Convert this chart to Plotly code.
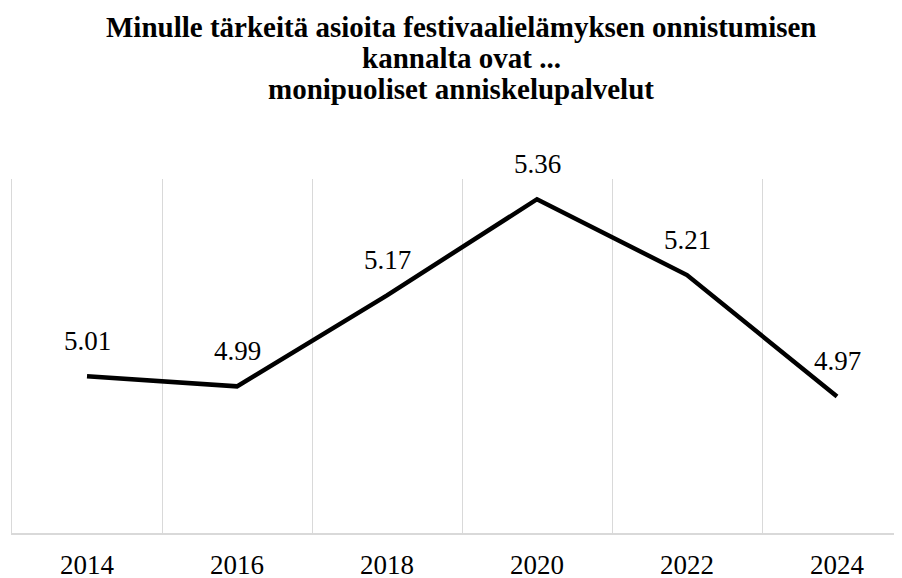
import plotly.graph_objects as go

years = ["2014", "2016", "2018", "2020", "2022", "2024"]
values = [5.01, 4.99, 5.17, 5.36, 5.21, 4.97]
labels = ["5.01", "4.99", "5.17", "5.36", "5.21", "4.97"]
title_lines = [
    "Minulle tärkeitä asioita festivaalielämyksen onnistumisen",
    "kannalta ovat ...",
    "monipuoliset anniskelupalvelut",
]

SERIF = "Liberation Serif"
GRID = "#d9d9d9"

# page body adds an 8px margin, so the figure is sized to fill the window
W, H = 894, 570
ML, MT, MB = 4, 171, 45
plot_h = H - MT - MB

fig = go.Figure()
fig.add_trace(go.Scatter(
    x=years, y=values, mode="lines",
    line=dict(color="#000000", width=4.5),
    hoverinfo="skip", showlegend=False,
))

for i, (v, t) in enumerate(zip(values, labels)):
    fig.add_annotation(x=i, y=v, xref="x", yref="y", text=t, showarrow=False,
                       yshift=35,
                       font=dict(family=SERIF, size=27, color="#000000"))

title_y_px = [19, 50, 81]
for line, ypx in zip(title_lines, title_y_px):
    fig.add_annotation(
        x=0.5045, y=(H - MB - ypx) / plot_h, xref="paper", yref="paper",
        text="<b>" + line + "</b>", showarrow=False,
        xanchor="center", yanchor="middle",
        font=dict(family=SERIF, size=29, color="#000000"),
    )

fig.update_layout(
    width=W, height=H,
    paper_bgcolor="white", plot_bgcolor="white",
    margin=dict(l=ML, r=0, t=MT, b=MB, autoexpand=False),
    showlegend=False,
)
fig.update_xaxes(
    type="category", range=[-0.5, 5.4333], tickson="boundaries",
    showgrid=True, gridcolor=GRID, gridwidth=1.4,
    showline=True, linecolor=GRID, linewidth=1.6,
    ticks="", ticklabelstandoff=7, automargin=False,
    tickfont=dict(family=SERIF, size=27, color="#000000"),
)
fig.update_yaxes(
    range=[4.7, 5.4], showgrid=False, zeroline=False,
    showticklabels=False, ticks="", automargin=False,
    showline=True, linecolor=GRID, linewidth=1.4,
)

fig.write_html("out.html")
